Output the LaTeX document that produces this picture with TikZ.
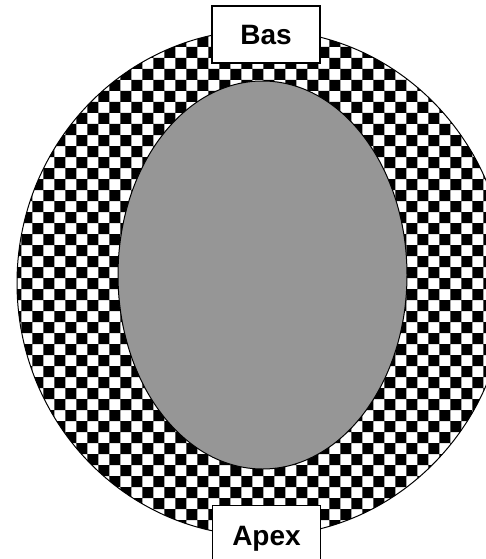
\documentclass[tikz,border=0pt]{standalone}
\usepackage{fontspec}
\setmainfont{Liberation Sans}
\usepackage{xcolor}
\definecolor{cavity}{RGB}{150,150,150}

\begin{document}
\begin{tikzpicture}[x=1pt, y=-1pt,
    tag/.style={draw, fill=white, line width=1.4pt, minimum width=108pt,
                inner sep=0pt, font=\fontsize{28}{32}\selectfont\bfseries,
                text height=20pt, text depth=0pt}]
  \useasboundingbox (0,0) rectangle (486,559);
  %% outer wall, checkered
  \fill[white] (262,283) ellipse [x radius=245pt, y radius=253pt];
  \begin{scope}
    \clip (262,283) ellipse [x radius=245pt, y radius=253pt];
    \fill[black] \foreach \i in {0,...,24} { \foreach \j in {0,...,25} {
        (-11.7+22*\i, 3+22*\j) rectangle ++(11,11)
        (-0.7+22*\i, 14+22*\j) rectangle ++(11,11) } };
  \end{scope}
  \draw[line width=1pt] (262,283) ellipse [x radius=245pt, y radius=253pt];
  %% inner cavity
  \filldraw[fill=cavity, line width=1pt] (262.5,275) ellipse [x radius=144.5pt, y radius=194pt];
  %% labels
  \node[tag, minimum height=57pt] (bas) at (266,34.5) {Bas};
  \node[tag, minimum height=60pt] (apex) at (266.5,535.5) {Apex};
\end{tikzpicture}
\end{document}
